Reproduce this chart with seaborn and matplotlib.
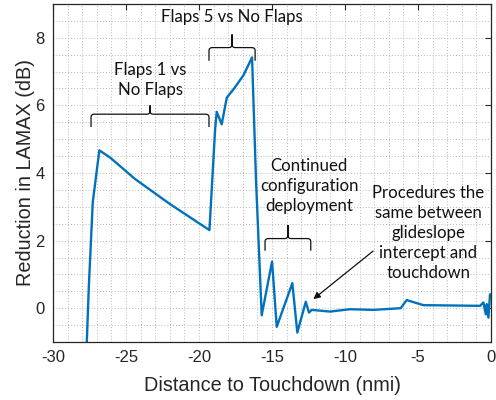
import numpy as np
import pandas as pd
import seaborn as sns
import matplotlib
matplotlib.use("Agg")
import matplotlib.pyplot as plt
from matplotlib.path import Path
from matplotlib.patches import PathPatch
from matplotlib.ticker import MultipleLocator

# Difference in LAMAX along the approach path (nmi before touchdown, dB)
distance_nmi = [-27.74, -27.69, -27.55, -27.28, -26.83, -26.10, -24.38, -21.99, -19.29,
                -18.90, -18.79, -18.45, -18.10, -17.60, -16.96, -16.37, -16.10, -15.71,
                -15.00, -14.68, -13.61, -13.27, -12.69, -12.47, -12.28, -11.03, -9.66,
                -8.06, -6.19, -5.78, -4.63, -0.75, -0.52, -0.36, -0.29, -0.18, -0.07, 0.0]
reduction_db = [-1.60, -1.00, 0.65, 3.14, 4.67, 4.46, 3.82, 3.08, 2.31,
                5.30, 5.81, 5.44, 6.23, 6.50, 6.89, 7.42, 3.80, -0.21,
                1.38, -0.55, 0.74, -0.72, 0.19, -0.13, -0.05, -0.10, -0.03,
                -0.05, 0.00, 0.24, 0.09, 0.07, 0.17, -0.18, 0.12, -0.28, 0.41, 0.40]

x_ticks = [-30, -25, -20, -15, -10, -5, 0]
y_ticks = [0, 2, 4, 6, 8]

df = pd.DataFrame({"distance": distance_nmi, "reduction": reduction_db})

sns.set_theme(style="white")
plt.rcParams["font.family"] = ["Liberation Sans", "DejaVu Sans"]

fig = plt.figure(figsize=(4.96, 4.00), dpi=100)
ax = fig.add_axes([0.107, 0.145, 0.883, 0.845])

sns.lineplot(data=df, x="distance", y="reduction", ax=ax, sort=False,
             estimator=None, color="#0072BD", linewidth=1.7)

ax.set_xlim(-30, 0)
ax.set_ylim(-1, 9)
ax.set_xticks(x_ticks)
ax.set_xticklabels([str(t) for t in x_ticks])
ax.set_yticks(y_ticks)
ax.xaxis.set_minor_locator(MultipleLocator(1))
ax.yaxis.set_minor_locator(MultipleLocator(0.5))
ax.grid(which="both", color="#b8b8b8", linestyle=(0, (1, 2)), linewidth=0.7)
ax.tick_params(which="major", direction="in", length=4, width=0.8,
               top=True, right=True, labelsize=12, colors="#262626", pad=6)
ax.tick_params(which="minor", length=0)
for s in ax.spines.values():
    s.set_color("#262626")
    s.set_linewidth(0.9)

ax.set_xlabel("Distance to Touchdown (nmi)", fontsize=14.3, color="#262626", labelpad=8)
ax.set_ylabel("Reduction in LAMAX (dB)", fontsize=14.3, color="#262626", labelpad=0)

note_font = dict(family=["Lato", "DejaVu Sans"], fontsize=12.1, color="#111111",
                 ha="center", va="center", linespacing=1.32)


def brace(x0, x1, y_end, y_bar, y_tip, rx=0.22, ry=0.09):
    xc = (x0 + x1) / 2
    verts, codes = [], []
    for xe, sgn in ((x0, 1), (x1, -1)):
        verts += [(xe, y_end), (xe, y_bar - ry), (xe, y_bar), (xe + sgn * rx, y_bar),
                  (xc - sgn * rx, y_bar), (xc, y_bar), (xc, y_bar + ry), (xc, y_tip)]
        codes += [Path.MOVETO, Path.LINETO, Path.CURVE3, Path.CURVE3,
                  Path.LINETO, Path.CURVE3, Path.CURVE3, Path.LINETO]
    ax.add_patch(PathPatch(Path(verts, codes), fill=False, edgecolor="#111111",
                           linewidth=0.9, zorder=4))


brace(-27.4, -19.32, 5.36, 5.74, 6.0)
brace(-19.32, -16.16, 7.32, 7.71, 8.1)
brace(-15.48, -12.35, 1.70, 2.06, 2.46)

ax.text(-23.36, 6.76, "Flaps 1 vs\nNo Flaps", **note_font)
ax.text(-17.74, 8.61, "Flaps 5 vs No Flaps", **note_font)
ax.text(-12.45, 3.61, "Continued\nconfiguration\ndeployment", **note_font)
ax.text(-4.3, 2.22, "Procedures the\nsame between\nglideslope\nintercept and\ntouchdown", **note_font)

ax.annotate("", xy=(-12.17, 0.27), xytext=(-8.08, 1.69),
            arrowprops=dict(arrowstyle="-|>", color="#111111", lw=0.9,
                            mutation_scale=10, shrinkA=0, shrinkB=0))

fig.savefig("out.png", dpi=100)
